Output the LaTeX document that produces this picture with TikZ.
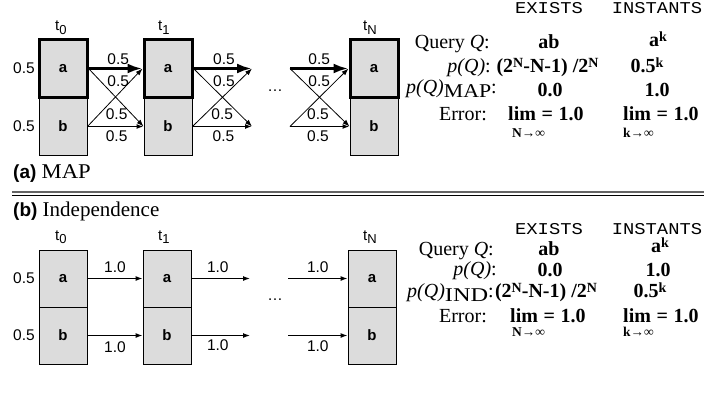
\documentclass[tikz,border=0pt]{standalone}
\usepackage{fontspec}
\setmainfont{Liberation Serif}
\setsansfont{Liberation Sans}
\setmonofont{Liberation Mono}
\usetikzlibrary{arrows.meta}
\definecolor{cellgray}{RGB}{220,220,220}
\definecolor{rulegray}{RGB}{100,100,100}
\newcommand{\fsz}[1]{\fontsize{#1}{#1}\selectfont}
\newcommand{\sups}[1]{\raisebox{5pt}{\fsz{14}#1}}
\newcommand{\tsub}[1]{\raisebox{-3.5pt}{\fsz{13}#1}}
\newcommand{\mono}[1]{\scalebox{1.14}[1]{#1}}
\begin{document}
\begin{tikzpicture}[x=1pt,y=-1pt,
  cellbox/.style={draw, fill=cellgray, minimum width=48pt, minimum height=58pt, inner sep=0pt, line width=0.9pt, font=\sffamily\bfseries\fsz{15}},
  lowcell/.style={cellbox, minimum height=57pt},
  boldcell/.style={cellbox, line width=3pt},
  lab/.style={font=\sffamily\fsz{15.5}, inner sep=0pt},
  tlab/.style={font=\sffamily\fsz{15}, inner sep=0pt, anchor=base west},
  thinarr/.style={-{Latex[length=7pt,width=5pt]}, line width=0.8pt},
  medarr/.style={-{Latex[length=7pt,width=5pt]}, line width=1.4pt},
  heavyarr/.style={-{Latex[length=15pt,width=10pt]}, line width=3pt},
  indarr/.style={-{Latex[length=7pt,width=5pt]}, line width=1.1pt},
  tx/.style={font=\fsz{20}, inner sep=0pt, anchor=base},
  txr/.style={tx, anchor=base east},
  val/.style={font=\bfseries\fsz{20}, inner sep=0pt, anchor=base},
  vall/.style={val, anchor=base west},
  hdr/.style={font=\ttfamily\fsz{16.5}, inner sep=0pt, anchor=base},
  limsub/.style={font=\bfseries\fsz{13.5}, inner sep=0pt, anchor=base west},
  captext/.style={inner sep=0pt, anchor=base west},
]
\useasboundingbox (0,0) rectangle (707,392);

% ---------------- (a) MAP ----------------
\node[tlab] (TA0) at (55,30.5) {t\tsub{0}};
\node[tlab] (TA1) at (158,30.5) {t\tsub{1}};
\node[tlab] (TAN) at (363,30.5) {t\tsub{N}};

\node[cellbox] (A0b) at (63,126.5) {b};
\node[cellbox] (A1b) at (168,126.5) {b};
\node[cellbox] (ANb) at (374,126.5) {b};
\node[boldcell] (A0a) at (63,68.5) {a};
\node[boldcell] (A1a) at (168,68.5) {a};
\node[boldcell] (ANa) at (374,68.5) {a};

\node[lab] (PA0a) at (24,68.5) {0.5};
\node[lab] (PA0b) at (24,126.5) {0.5};

\coordinate (A1ae) at (252,68.5);
\coordinate (A1be) at (252,126.5);
\coordinate (ANas) at (290,68.5);
\coordinate (ANbs) at (290,126.5);

% segment 1
\draw[thinarr] (A0a.east) -- (A1b.west);
\draw[thinarr] (A0b.east) -- (A1a.west);
\draw[medarr] (A0b.east) -- node[lab, pos=.52, yshift=12]{0.5} node[lab, pos=.52, yshift=-9.5]{0.5} (A1b.west);
\draw[heavyarr] (A0a.east) -- node[lab, pos=.55, yshift=9.5]{0.5} node[lab, pos=.55, yshift=-12.5]{0.5} (A1a.west);
% segment 2
\draw[thinarr] (A1a.east) -- (A1be);
\draw[thinarr] (A1b.east) -- (A1ae);
\draw[medarr] (A1b.east) -- node[lab, pos=.5, yshift=12]{0.5} node[lab, pos=.52, yshift=-9.5]{0.5} (A1be);
\draw[heavyarr] (A1a.east) -- node[lab, pos=.52, yshift=9.5]{0.5} node[lab, pos=.52, yshift=-12.5]{0.5} (A1ae);
% segment 3
\draw[thinarr] (ANas) -- (ANb.west);
\draw[thinarr] (ANbs) -- (ANa.west);
\draw[medarr] (ANbs) -- node[lab, pos=.47, yshift=12]{0.5} node[lab, pos=.47, yshift=-9.5]{0.5} (ANb.west);
\draw[heavyarr] (ANas) -- node[lab, pos=.5, yshift=9.5]{0.5} node[lab, pos=.5, yshift=-12.5]{0.5} (ANa.west);

\node[lab, anchor=base] (DA) at (275,91) {\ldots};

\node[captext] (CapA) at (13,178.5) {\sffamily\bfseries\fsz{19}(a) \rmfamily\mdseries\fsz{21}\scalebox{1.08}[1]{MAP}};

% separator
\draw[rulegray, line width=2.4pt] (12,191.8) -- (704,191.8);
\draw[black, line width=1.3pt] (12,195.2) -- (704,195.2);

% table (a)
\node[hdr] (HEa) at (549,13.5) {\mono{EXISTS}};
\node[hdr] (HIa) at (657,13.5) {\mono{INSTANTS}};
\node[txr] (QA) at (490,48) {Query \textit{Q}:};
\node[val] (QAe) at (549,48) {ab};
\node[val] (QAi) at (658,46) {a\sups{k}};
\node[txr] (PA) at (491,72) {\textit{p(Q)}:};
\node[val] (PAe) at (547.5,72) {(2\sups{N}-N-1) /2\sups{N}};
\node[val] (PAi) at (647,72) {0.5\sups{k}};
\node[txr] (MA) at (497,93.5) {\textit{p(Q)}\raisebox{-4pt}{\fsz{19.5}\scalebox{1.12}[1]{MAP}}:};
\node[val] (MAe) at (550,96.5) {0.0};
\node[val] (MAi) at (657,96.5) {1.0};
\node[txr] (EA) at (487,120) {Error:};
\node[vall] (EAe) at (508,120) {lim\hspace{.28em}=\hspace{.28em}1.0};
\node[limsub] (EAes) at (512,137) {N→∞};
\node[vall] (EAi) at (623,120) {lim\hspace{.28em}=\hspace{.28em}1.0};
\node[limsub] (EAis) at (623,137) {k→∞};

% ---------------- (b) Independence ----------------
\node[captext] (CapB) at (13,216.5) {\sffamily\bfseries\fsz{19}(b) \rmfamily\mdseries\fsz{21}Independence};

\node[tlab] (TB0) at (55,240) {t\tsub{0}};
\node[tlab] (TB1) at (158,240) {t\tsub{1}};
\node[tlab] (TBN) at (363,240) {t\tsub{N}};

\node[lowcell] (B0a) at (63,278.5) {a};
\node[lowcell] (B1a) at (167,278.5) {a};
\node[lowcell] (BNa) at (372,278.5) {a};
\node[lowcell] (B0b) at (63,335.5) {b};
\node[lowcell] (B1b) at (167,335.5) {b};
\node[lowcell] (BNb) at (372,335.5) {b};

\node[lab] (PB0a) at (24,278.5) {0.5};
\node[lab] (PB0b) at (24,335.5) {0.5};

\coordinate (B1ae) at (250,278.5);
\coordinate (B1be) at (250,335.5);
\coordinate (BNas) at (288,278.5);
\coordinate (BNbs) at (288,335.5);

\draw[indarr] (B0a.east) -- node[lab, pos=.5, yshift=11.5]{1.0} (B1a.west);
\draw[indarr] (B0b.east) -- node[lab, pos=.5, yshift=-11.5]{1.0} (B1b.west);
\draw[indarr] (B1a.east) -- node[lab, pos=.45, yshift=11.5]{1.0} (B1ae);
\draw[indarr] (B1b.east) -- node[lab, pos=.45, yshift=-9.5]{1.0} (B1be);
\draw[indarr] (BNas) -- node[lab, pos=.5, yshift=11.5]{1.0} (BNa.west);
\draw[indarr] (BNbs) -- node[lab, pos=.5, yshift=-10.5]{1.0} (BNb.west);

\node[lab, anchor=base] (DB) at (275,300) {\ldots};

% table (b)
\node[hdr] (HEb) at (549,234) {\mono{EXISTS}};
\node[hdr] (HIb) at (657,234) {\mono{INSTANTS}};
\node[txr] (QB) at (494,255) {Query \textit{Q}:};
\node[val] (QBe) at (549,255) {ab};
\node[val] (QBi) at (660,252) {a\sups{k}};
\node[txr] (PB) at (497,275.5) {\textit{p(Q)}:};
\node[val] (PBe) at (550,276) {0.0};
\node[val] (PBi) at (658,276) {1.0};
\node[txr] (IB) at (494,297) {\textit{p(Q)}\raisebox{-4pt}{\fsz{19.5}\scalebox{1.25}[1]{IND}}:};
\node[val] (IBe) at (546,297) {(2\sups{N}-N-1) /2\sups{N}};
\node[val] (IBi) at (650,297) {0.5\sups{k}};
\node[txr] (EB) at (487,322) {Error:};
\node[vall] (EBe) at (510,322) {lim\hspace{.28em}=\hspace{.28em}1.0};
\node[limsub] (EBes) at (512,336) {N→∞};
\node[vall] (EBi) at (623,322) {lim\hspace{.28em}=\hspace{.28em}1.0};
\node[limsub] (EBis) at (623,336) {k→∞};
\end{tikzpicture}
\end{document}
